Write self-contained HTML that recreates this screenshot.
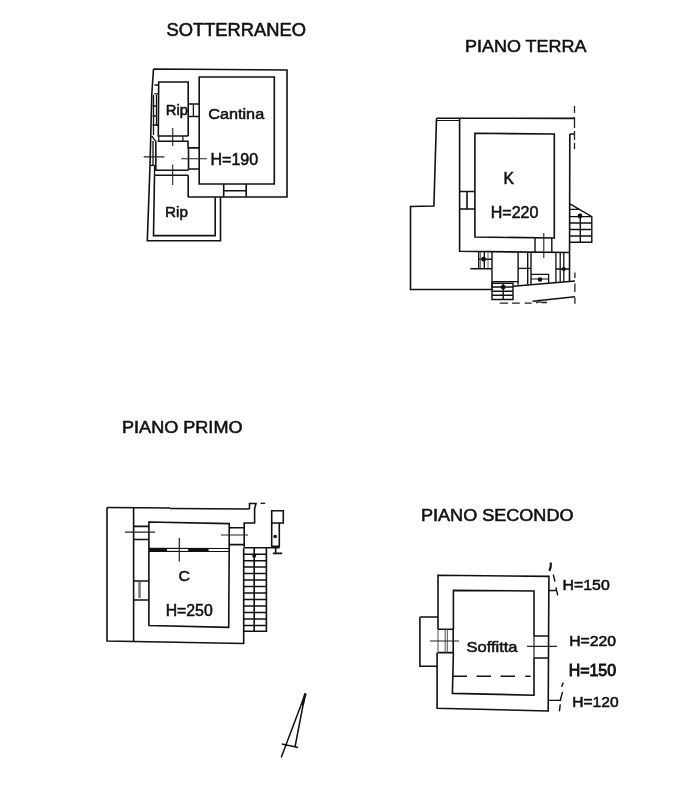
<!DOCTYPE html>
<html><head><meta charset="utf-8"><style>
html,body{margin:0;padding:0;background:#fff;width:685px;height:800px;overflow:hidden}
svg{display:block;will-change:transform}
text{font-family:"Liberation Sans",sans-serif;fill:#111;stroke:#111;stroke-width:0.55px}
</style></head><body>
<svg width="685" height="800" viewBox="0 0 685 800">
<rect width="685" height="800" fill="#fff"/>
<!-- titles -->
<text x="166.5" y="35.8" font-size="17.6" textLength="139.5" lengthAdjust="spacingAndGlyphs">SOTTERRANEO</text>
<text x="465" y="51.9" font-size="17" textLength="121.5" lengthAdjust="spacingAndGlyphs">PIANO TERRA</text>
<text x="122" y="433" font-size="17" textLength="120.5" lengthAdjust="spacingAndGlyphs">PIANO PRIMO</text>
<text x="421" y="520.5" font-size="17" textLength="152.5" lengthAdjust="spacingAndGlyphs">PIANO SECONDO</text>

<!-- ===== SOTTERRANEO ===== -->
<g fill="none" stroke="#111" stroke-width="1.6" stroke-linejoin="miter">
  <!-- outer -->
  <path d="M153.5 69 L287 70 L287 197 L188.2 197 M220.5 197 L220.5 240.7 L147.3 240.7 L150 166 L151.8 94 L153.5 69"/>
  <!-- cantina -->
  <path d="M199.2 77 L274.3 77 L274.3 184 L199.2 184 Z"/>
  <!-- upper rip -->
  <path d="M188.2 136 L188.2 82 L158.7 82 L158.3 136 L188.2 136"/>
  <!-- hall -->
  <path d="M157.5 141.3 L188 141.3 L188 147.9 L199.2 147.9 M188.5 147.9 L188.5 169.8 M188.5 169 L199.2 169 M188.5 170.2 L155.8 170.2 L155.8 141.3"/>
  <!-- door hall / lower rip -->
  <path d="M155 175.3 L188.2 175.3"/>
  <!-- lower rip -->
  <path d="M154.5 175.3 L153.5 235.6 L215.2 235.6 L215.2 197.2 M188.2 197.2 L188.2 175.3"/>
  <!-- window rip-cantina -->
  <path d="M188.2 104 L199.2 104 M188.2 116.5 L199.2 116.5 M193.4 104 L193.4 116.5" stroke-width="1.3"/>
  <!-- bottom window -->
  <path d="M223.7 184 L223.7 197 M246.2 184 L246.2 197 M223.7 190.7 L246.2 190.7"/>
  <!-- left wall windows -->
  <path d="M154.5 85 L158.5 85 M154.3 93.8 L158.5 93.8 M153.5 95 L153.5 135 M156.5 95 L156.5 126 M152.5 106 L156.5 106 M152.5 116 L156.5 116 M152.5 125 L158.4 125 M153 141 L153 165" stroke-width="1.3"/>
  <path d="M151.5 136 L155.8 141.3 M150 165.4 L154.5 165.4 M154.5 165.4 L154.5 175.3" stroke-width="1.3"/>
  <path d="M158.8 136 L158.8 141.3 M182.9 136 L182.9 141.3" stroke-width="1.2"/>
</g>
<g fill="none" stroke="#222" stroke-width="1.1">
  <path d="M172.7 128 L172.7 146 M172.7 164.4 L172.7 185 M143.7 156.9 L164.4 156.9 M181.2 158.8 L206.9 158.8"/>
</g>
<text x="165.8" y="115" font-size="15.2" textLength="22.2" lengthAdjust="spacingAndGlyphs">Rip</text>
<text x="208.2" y="118.6" font-size="15.2" textLength="56" lengthAdjust="spacingAndGlyphs">Cantina</text>
<text x="210.5" y="164.5" font-size="16.5" textLength="47.7" lengthAdjust="spacingAndGlyphs">H=190</text>
<text x="165.1" y="217" font-size="15" textLength="22.8" lengthAdjust="spacingAndGlyphs">Rip</text>

<!-- ===== PIANO TERRA ===== -->
<g fill="none" stroke="#111" stroke-width="1.6">
  <!-- top outer -->
  <path d="M436.5 118.2 L574.5 118.4"/>
  <path d="M437 120.5 L459.6 120.5" stroke-width="1"/>
  <!-- annex left -->
  <path d="M436.5 118.2 L433.9 206 L410.5 206.5 L410.5 289.5 L492 289.5"/>
  <!-- main outer left -->
  <path d="M459.6 118.2 L459.6 251.3 L569.5 252.5"/>
  <!-- K room -->
  <path d="M474.9 133.3 L554.3 134 L554.3 238 L474.9 237 Z"/>
  <!-- outer right -->
  <path d="M569.8 134 L569.5 281.2 M569.8 134 L575 134"/>
  <!-- window left -->
  <path d="M459.6 191.5 L474.9 191.5 M459.6 209 L474.9 209 M467 191.5 L467 209"/>
  <!-- small stairs bottom left -->
  <path d="M478.7 251.5 L478.7 268.8 M492 251.5 L492 290 M470.3 268.8 L492 268.8 M484.3 252 L484.3 268.5 M478.7 259.2 L492 259.2" stroke-width="1.4"/><path d="M480.6 252 V268 M488 252 V268" stroke-width="0.9" stroke="#555"/><circle cx="483.6" cy="259.2" r="1.6" fill="#111"/>
  <!-- door K bottom -->
  <path d="M535 238 L535 252.5 M551.8 238 L551.8 252.5" stroke-width="1.4"/>
  <path d="M543.8 233 L543.8 258" stroke-width="1"/>
  <!-- rooms below -->
  <path d="M492 281.6 L517.8 281.6 M518.1 252.5 L518.1 284.7 M531 252.5 L531 284.7 M527.7 252.5 L527.7 284.7 M518.1 268.4 L531 268.4" stroke-width="1.4"/>
  <path d="M531 274.3 L548.6 274.3 L548.6 283 M555.9 252.5 L555.9 282.5 M560.2 252.5 L560.2 282 M563.8 252.5 L563.8 282 M555.9 269 L569.5 269" stroke-width="1.3"/><circle cx="563.8" cy="269" r="1.3" fill="#111"/><circle cx="540" cy="279.5" r="1.5" fill="#111"/>
  <path d="M531 279 L548.6 279" stroke-width="1"/>
  <!-- bottom stairs -->
  <path d="M492 283.2 L513 283.2 L513 299.5 L492 299.5 Z M492 287 L513 287 M492 291.2 L513 291.2 M492 295.3 L513 295.3 M503.2 283.2 L503.2 299.5" stroke-width="1.4"/><circle cx="503.2" cy="287.2" r="1.6" fill="#111"/>
  <!-- wedge -->
  <path d="M513.3 286.3 L575 281 M532.5 301.2 L575 296.8" stroke-width="1.4"/>
  <!-- right stairs -->
  <path d="M569.5 203.6 L591.8 216.6 L591.8 242.2 L569.5 242.2 M569.5 209.4 L579.5 209.4 M569.5 216.6 L591.8 216.6 M569.5 223 L591.8 223 M569.5 229.5 L591.8 229.5 M569.5 236 L591.8 236 M580.3 213.7 L580.3 242.2" stroke-width="1.4"/><circle cx="580" cy="216" r="1.6" fill="#111"/>
</g>
<g fill="none" stroke="#222" stroke-width="1.3">
  <path d="M574.5 106 V113 M574.5 117 V128 M574.5 131 V140 M574.5 143 V149"/>
  <path d="M574.9 272.6 V278 M574.9 283.5 V292 M574.9 297.5 V303.7"/>
  <path d="M499.7 303.2 H508 M512 303.2 H519.8 M524.7 303.2 H531.6 M536 303 Q539 301 542 302.5 H547"/>
</g>
<text x="503.6" y="183.8" font-size="16.5" textLength="10.5" lengthAdjust="spacingAndGlyphs">K</text>
<text x="490.7" y="218.2" font-size="16" textLength="47.8" lengthAdjust="spacingAndGlyphs">H=220</text>

<!-- ===== PIANO PRIMO ===== -->
<g fill="none" stroke="#111" stroke-width="1.6">
  <path d="M107 507.4 L107 641 L243.7 643.5 L243.7 547.7"/>
  <path d="M107 507.4 L170 508 M170 508.5 L249.5 509" stroke-width="1.5"/>
  <path d="M133.6 507.4 L133.6 641.5"/>
  <!-- upper band -->
  <path d="M148.9 549.7 L148.9 522 L229.2 523.6 L229.2 549.9"/>
  <path d="M148.9 548.3 L229.2 548.5 M148.9 551.3 L229.2 551.5" stroke-width="1.2"/><path d="M148.9 549.8 L167 549.8 M188.2 549.9 L208.6 550" stroke-width="3.4"/>
  <!-- C room -->
  <path d="M148.9 549.7 L148.9 625.5 L228.7 627.4 L229.2 549.9"/>
  <!-- left windows -->
  <path d="M133.6 526.4 L148.9 526.4 M133.6 539.5 L148.9 539.5"/>
  <path d="M133.6 581 L148.9 581 M133.6 600 L148.9 600"/>
  <path d="M139.5 582 L139.5 598" stroke="#777" stroke-width="2.5"/>
  <!-- right top -->
  <path d="M249.5 509 L249.5 503.5 L256 503.5 L254.6 508.5 L254.6 523 L244.2 523 L244.2 547.6 M229.2 527.7 L244.2 527.7 M229.2 544.6 L244.2 544.6" stroke-linejoin="miter"/>
  <path d="M260.6 503.3 L265.2 503.3" stroke-width="1.3"/>
  <!-- stairs -->
  <path d="M244.5 547.7 L279.6 547.7 M266.4 547.7 L266.4 631.2 L243.7 631.2 M254.2 547.7 L254.2 631.2" stroke-width="1.6"/>
  <path d="M243.7 554.2 H266.4 M243.7 560.7 H266.4 M243.7 567.1 H266.4 M243.7 573.6 H266.4 M243.7 580.1 H266.4 M243.7 586.6 H266.4 M243.7 593.0 H266.4 M243.7 599.5 H266.4 M243.7 606.0 H266.4 M243.7 612.4 H266.4 M243.7 618.9 H266.4 M243.7 625.4 H266.4" stroke-width="1.5"/>
  <!-- side element -->
  <path d="M271.7 510.8 H283.3 V523 H271.7 Z M271.7 523 V546.4 H279.3 V523 M275.7 546.4 V553.4 M272.8 553.4 H282.2"/>
</g>
<circle cx="275.2" cy="536.5" r="1.8" fill="#111"/>
<circle cx="254.2" cy="555.7" r="2" fill="#111"/>
<g fill="none" stroke="#222" stroke-width="1.2">
  <path d="M125 532.2 L155 532.2 M179.3 538 L179.3 561.4 M221 535 L248 535"/>
</g>
<text x="178.5" y="580.6" font-size="15" textLength="11.5" lengthAdjust="spacingAndGlyphs">C</text>
<text x="165.7" y="616.4" font-size="16" textLength="47" lengthAdjust="spacingAndGlyphs">H=250</text>

<!-- ===== PIANO SECONDO ===== -->
<g fill="none" stroke="#111" stroke-width="1.6">
  <path d="M438 629.3 L438 575.3 L548.9 576.4 L548.2 711 L437.1 708.3 L437.1 652.6"/>
  <path d="M453.4 629.3 L453.4 590.4 L534 591 L534 636"/>
  <path d="M453.4 652.6 L452.4 693.4 L534 695.2 L534 658"/>
  <path d="M419.9 617 L438 617 M419.9 617 L419.9 666.3 L437.1 666.3"/>
  <!-- windows -->
  <path d="M438 629.3 L453.4 629.3 M438 652.6 L453.4 652.6 M453.2 629.3 V652.6" stroke-width="1.6"/><path d="M445.2 629.3 V652.6 M447.3 629.3 V652.6 M438 629.3 V652.6" stroke-width="1" stroke="#555"/>
  <path d="M534 636 L549 636 M534 658 L549 658"/><path d="M534 636 V658" stroke-width="1.1"/>
  <path d="M548.9 590.5 L556.8 590.5 M548.2 700.3 L561.2 700.3" stroke-width="1.3"/>
</g>
<g fill="none" stroke="#222" stroke-width="1.2">
  <path d="M430 641 L459 641 M527 646.4 L557 646.4"/>
</g>
<path d="M453 676.3 H467 M476.5 676.3 H491 M500.5 676.3 H515 M525.3 676.3 H530.5" fill="none" stroke="#111" stroke-width="1.6"/>
<g fill="none" stroke="#111" stroke-width="1.4">
  <path d="M549.3 571 C551 567.5 551.3 565 550.6 562.4" stroke-width="2"/>
  <path d="M553.3 574.7 L555 581.7 M555.9 587.4 L557.7 595.3"/>
  <path d="M563.3 682.4 L561.6 686.8 M562.5 692 L560.3 700.3 M560.3 704.3 L559.4 711.3"/>
</g>
<text x="466.5" y="652" font-size="15" textLength="51" lengthAdjust="spacingAndGlyphs">Soffitta</text>
<text x="562.5" y="590" font-size="15.3" textLength="47.3" lengthAdjust="spacingAndGlyphs">H=150</text>
<text x="569.2" y="646.4" font-size="15" textLength="46.8" lengthAdjust="spacingAndGlyphs">H=220</text>
<text x="568.7" y="675.9" font-size="16" textLength="47.3" lengthAdjust="spacingAndGlyphs" style="stroke-width:0.9px">H=150</text>
<text x="572.2" y="706.5" font-size="15.5" textLength="46.4" lengthAdjust="spacingAndGlyphs">H=120</text>

<!-- ===== NORTH ARROW ===== -->
<g fill="none" stroke="#111" stroke-width="1.5">
  <path d="M305.4 693.5 L281.2 757.6 M304 700 L295 747 M281.8 743.9 L298.1 747.5"/>
  <path d="M305.4 693.5 L302.5 705" stroke-width="2.6"/>
</g>
</svg>
</body></html>
